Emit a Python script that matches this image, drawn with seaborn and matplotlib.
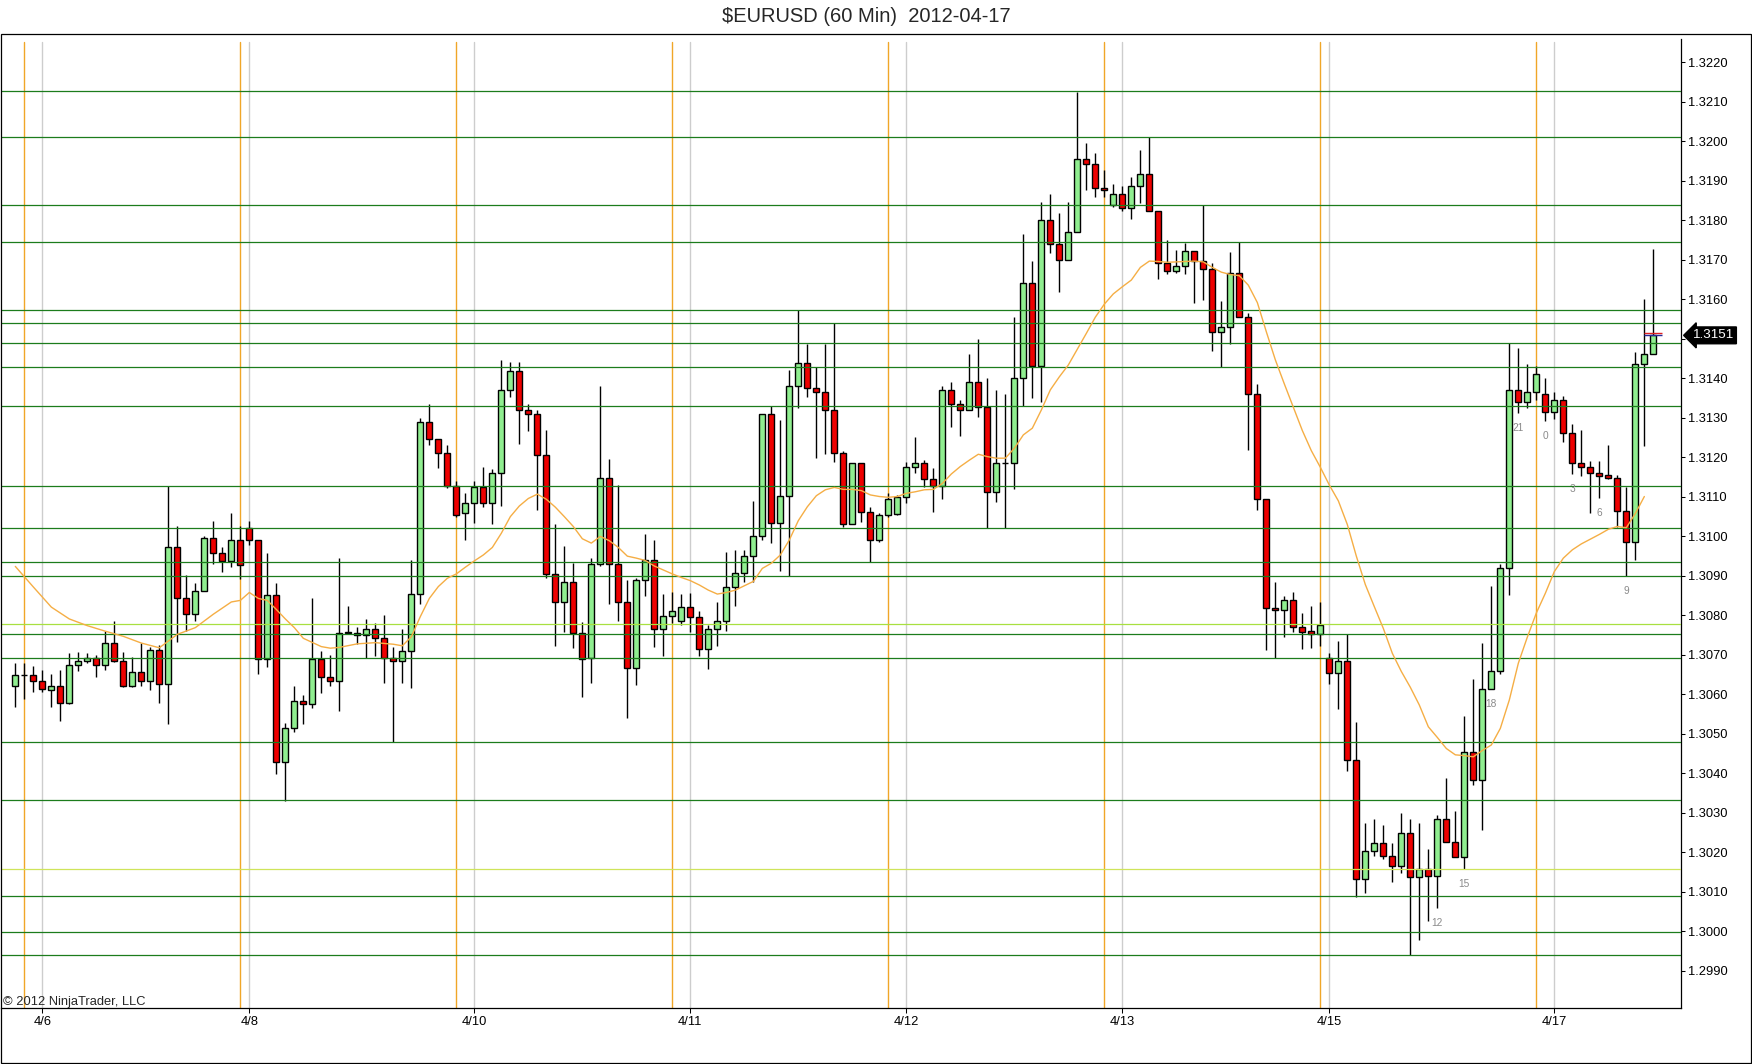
import numpy as np
import pandas as pd
import matplotlib
matplotlib.use("Agg")
import matplotlib.pyplot as plt
import matplotlib.transforms as mtransforms
from matplotlib.patches import Rectangle
import seaborn as sns

# ---------------- data ----------------
title = "$EURUSD (60 Min)  2012-04-17"
copyright_text = "\u00a9 2012 NinjaTrader, LLC"

opens = [
    1.30622, 1.30648, 1.30648, 1.30633, 1.30612, 1.30622, 1.30579, 1.30674, 1.30684, 1.30691,
    1.30674, 1.30729, 1.30684, 1.30622, 1.30657, 1.30633, 1.30713, 1.30626, 1.30974, 1.30845,
    1.30803, 1.30863, 1.30995, 1.30959, 1.30938, 1.30990, 1.31021, 1.30990, 1.30689, 1.30852,
    1.30429, 1.30514, 1.30583, 1.30575, 1.30690, 1.30643, 1.30633, 1.30755, 1.30751, 1.30751,
    1.30765, 1.30744, 1.30693, 1.30685, 1.30710, 1.30854, 1.31289, 1.31246, 1.31210, 1.31128,
    1.31058, 1.31084, 1.31124, 1.31084, 1.31160, 1.31371, 1.31420, 1.31319, 1.31309, 1.31205,
    1.30904, 1.30833, 1.30884, 1.30755, 1.30691, 1.30930, 1.31149, 1.30930, 1.30833, 1.30668,
    1.30890, 1.30940, 1.30765, 1.30799, 1.30786, 1.30822, 1.30795, 1.30714, 1.30765, 1.30786,
    1.30873, 1.30908, 1.30950, 1.31001, 1.31309, 1.31033, 1.31103, 1.31380, 1.31440, 1.31376,
    1.31365, 1.31319, 1.31210, 1.31031, 1.31185, 1.31063, 1.30991, 1.31054, 1.31056, 1.31099,
    1.31175, 1.31185, 1.31145, 1.31128, 1.31371, 1.31334, 1.31320, 1.31390, 1.31328, 1.31113,
    1.31185, 1.31185, 1.31400, 1.31641, 1.31431, 1.31800, 1.31740, 1.31701, 1.31770, 1.31955,
    1.31944, 1.31881, 1.31839, 1.31866, 1.31831, 1.31887, 1.31917, 1.31825, 1.31691, 1.31672,
    1.31685, 1.31723, 1.31697, 1.31676, 1.31518, 1.31530, 1.31666, 1.31555, 1.31360, 1.31094,
    1.30819, 1.30813, 1.30838, 1.30770, 1.30760, 1.30753, 1.30693, 1.30653, 1.30684, 1.30434,
    1.30132, 1.30204, 1.30223, 1.30192, 1.30166, 1.30248, 1.30137, 1.30157, 1.30141, 1.30284,
    1.30227, 1.30188, 1.30453, 1.30383, 1.30613, 1.30658, 1.30919, 1.31371, 1.31339, 1.31365,
    1.31360, 1.31314, 1.31345, 1.31261, 1.31185, 1.31175, 1.31160, 1.31156, 1.31149, 1.31064,
    1.30985, 1.31436, 1.31461,
]
highs = [
    1.30679, 1.30679, 1.30672, 1.30662, 1.30652, 1.30662, 1.30705, 1.30708, 1.30705, 1.30700,
    1.30760, 1.30787, 1.30708, 1.30695, 1.30729, 1.30720, 1.30724, 1.31127, 1.31026, 1.30902,
    1.30883, 1.31000, 1.31038, 1.30974, 1.31058, 1.31026, 1.31038, 1.30990, 1.30959, 1.30883,
    1.30528, 1.30620, 1.30599, 1.30845, 1.30710, 1.30700, 1.30946, 1.30825, 1.30771, 1.30791,
    1.30782, 1.30801, 1.30721, 1.30766, 1.30940, 1.31301, 1.31334, 1.31246, 1.31231, 1.31139,
    1.31109, 1.31139, 1.31175, 1.31170, 1.31447, 1.31442, 1.31442, 1.31334, 1.31320, 1.31269,
    1.31031, 1.30976, 1.30932, 1.30784, 1.30945, 1.31381, 1.31196, 1.31130, 1.30890, 1.30894,
    1.31005, 1.30991, 1.30854, 1.30860, 1.30854, 1.30856, 1.30810, 1.30776, 1.30835, 1.30960,
    1.30966, 1.30966, 1.31090, 1.31309, 1.31329, 1.31295, 1.31421, 1.31572, 1.31487, 1.31428,
    1.31487, 1.31539, 1.31216, 1.31185, 1.31185, 1.31075, 1.31058, 1.31109, 1.31105, 1.31189,
    1.31252, 1.31193, 1.31172, 1.31381, 1.31392, 1.31345, 1.31462, 1.31499, 1.31400, 1.31371,
    1.31361, 1.31556, 1.31766, 1.31697, 1.31846, 1.31866, 1.31820, 1.31846, 1.32126, 1.31995,
    1.31970, 1.31928, 1.31892, 1.31887, 1.31911, 1.31977, 1.32010, 1.31825, 1.31750, 1.31725,
    1.31744, 1.31723, 1.31839, 1.31691, 1.31596, 1.31721, 1.31745, 1.31565, 1.31386, 1.31094,
    1.30884, 1.30850, 1.30859, 1.30805, 1.30824, 1.30833, 1.30706, 1.30735, 1.30752, 1.30531,
    1.30275, 1.30284, 1.30269, 1.30223, 1.30299, 1.30284, 1.30275, 1.30208, 1.30295, 1.30389,
    1.30305, 1.30546, 1.30639, 1.30729, 1.30874, 1.30930, 1.31489, 1.31476, 1.31437, 1.31432,
    1.31400, 1.31365, 1.31356, 1.31285, 1.31270, 1.31191, 1.31191, 1.31231, 1.31156, 1.31126,
    1.31466, 1.31602, 1.31728,
]
lows = [
    1.30569, 1.30588, 1.30607, 1.30607, 1.30569, 1.30533, 1.30576, 1.30658, 1.30679, 1.30643,
    1.30662, 1.30681, 1.30619, 1.30619, 1.30622, 1.30612, 1.30579, 1.30525, 1.30732, 1.30760,
    1.30787, 1.30863, 1.30931, 1.30909, 1.30923, 1.30893, 1.30979, 1.30652, 1.30669, 1.30399,
    1.30331, 1.30504, 1.30524, 1.30565, 1.30603, 1.30622, 1.30559, 1.30752, 1.30728, 1.30693,
    1.30697, 1.30628, 1.30480, 1.30628, 1.30617, 1.30829, 1.31231, 1.31174, 1.31123, 1.31048,
    1.30991, 1.31033, 1.31074, 1.31031, 1.31078, 1.31354, 1.31234, 1.31268, 1.31067, 1.30894,
    1.30723, 1.30759, 1.30718, 1.30593, 1.30628, 1.30925, 1.30828, 1.30786, 1.30540, 1.30624,
    1.30848, 1.30719, 1.30698, 1.30780, 1.30776, 1.30759, 1.30698, 1.30664, 1.30723, 1.30761,
    1.30825, 1.30884, 1.30884, 1.30991, 1.30984, 1.30913, 1.30901, 1.31324, 1.31354, 1.31199,
    1.31209, 1.31189, 1.31023, 1.31031, 1.31037, 1.30934, 1.30985, 1.31048, 1.31054, 1.31084,
    1.31160, 1.31125, 1.31063, 1.31094, 1.31278, 1.31255, 1.31320, 1.31303, 1.31021, 1.31088,
    1.31021, 1.31119, 1.31330, 1.31350, 1.31339, 1.31717, 1.31620, 1.31701, 1.31770, 1.31877,
    1.31860, 1.31860, 1.31835, 1.31825, 1.31804, 1.31845, 1.31825, 1.31651, 1.31664, 1.31666,
    1.31664, 1.31590, 1.31598, 1.31470, 1.31428, 1.31486, 1.31555, 1.31220, 1.31068, 1.30712,
    1.30691, 1.30745, 1.30759, 1.30714, 1.30718, 1.30723, 1.30626, 1.30563, 1.30407, 1.30088,
    1.30098, 1.30192, 1.30183, 1.30126, 1.30147, 1.29940, 1.29977, 1.30027, 1.30059, 1.30227,
    1.30188, 1.30158, 1.30371, 1.30257, 1.30613, 1.30652, 1.30852, 1.31312, 1.31324, 1.31345,
    1.31293, 1.31297, 1.31240, 1.31158, 1.31154, 1.31058, 1.31098, 1.31146, 1.31025, 1.30900,
    1.30939, 1.31228, 1.31461,
]
closes = [
    1.30648, 1.30649, 1.30633, 1.30614, 1.30622, 1.30579, 1.30674, 1.30684, 1.30691, 1.30674,
    1.30729, 1.30684, 1.30622, 1.30657, 1.30633, 1.30713, 1.30626, 1.30974, 1.30845, 1.30803,
    1.30863, 1.30995, 1.30959, 1.30938, 1.30990, 1.30928, 1.30990, 1.30689, 1.30852, 1.30429,
    1.30514, 1.30583, 1.30575, 1.30690, 1.30643, 1.30633, 1.30755, 1.30757, 1.30755, 1.30765,
    1.30744, 1.30693, 1.30685, 1.30710, 1.30854, 1.31289, 1.31246, 1.31210, 1.31128, 1.31053,
    1.31084, 1.31124, 1.31084, 1.31160, 1.31371, 1.31420, 1.31319, 1.31309, 1.31205, 1.30904,
    1.30833, 1.30884, 1.30755, 1.30690, 1.30930, 1.31149, 1.30930, 1.30833, 1.30668, 1.30890,
    1.30940, 1.30765, 1.30799, 1.30812, 1.30822, 1.30795, 1.30714, 1.30765, 1.30786, 1.30873,
    1.30908, 1.30950, 1.31001, 1.31309, 1.31033, 1.31103, 1.31380, 1.31440, 1.31376, 1.31365,
    1.31319, 1.31210, 1.31031, 1.31185, 1.31063, 1.30991, 1.31054, 1.31094, 1.31099, 1.31175,
    1.31185, 1.31145, 1.31128, 1.31371, 1.31334, 1.31320, 1.31390, 1.31328, 1.31113, 1.31185,
    1.31186, 1.31400, 1.31641, 1.31431, 1.31800, 1.31740, 1.31701, 1.31770, 1.31955, 1.31944,
    1.31881, 1.31876, 1.31866, 1.31831, 1.31887, 1.31917, 1.31825, 1.31691, 1.31672, 1.31685,
    1.31723, 1.31697, 1.31676, 1.31518, 1.31530, 1.31666, 1.31555, 1.31360, 1.31094, 1.30818,
    1.30813, 1.30838, 1.30770, 1.30759, 1.30753, 1.30776, 1.30653, 1.30684, 1.30434, 1.30132,
    1.30204, 1.30223, 1.30192, 1.30166, 1.30248, 1.30137, 1.30157, 1.30141, 1.30284, 1.30227,
    1.30188, 1.30453, 1.30383, 1.30613, 1.30658, 1.30919, 1.31371, 1.31339, 1.31365, 1.31411,
    1.31314, 1.31345, 1.31261, 1.31185, 1.31175, 1.31160, 1.31154, 1.31149, 1.31064, 1.30985,
    1.31436, 1.31461, 1.31509,
]

# moving average (bar index, value)
ma_bars = [0, 2, 4, 6, 8, 10, 12, 14, 16, 17, 18, 20, 22, 24, 25, 26, 27, 28, 29, 30,
           31, 32, 34, 35, 36, 38, 40, 42, 43, 44, 45, 46, 47, 48, 49, 50, 51, 52, 53, 54,
           55, 56, 57, 58, 59, 60, 61, 62, 63, 64, 65, 66, 67, 68, 69, 70, 71, 72, 73, 74,
           75, 76, 77, 78, 79, 80, 81, 82, 83, 84, 85, 86, 87, 88, 89, 90, 91, 92, 93, 94,
           95, 96, 97, 98, 99, 100, 101, 102, 103, 104, 105, 106, 107, 108, 109, 110, 111, 112, 113, 114,
           115, 116, 117, 118, 119, 120, 121, 122, 123, 124, 125, 126, 127, 128, 129, 130, 131, 132, 133, 134,
           135, 136, 137, 138, 139, 140, 141, 142, 143, 144, 145, 146, 147, 148, 149, 150, 151, 152, 153, 154,
           155, 156, 157, 158, 159, 160, 161, 162, 163, 164, 165, 166, 167, 168, 169, 170, 171, 172, 173, 174,
           175, 176, 177, 178, 179, 180, 181]
ma_vals = [1.30924, 1.30872, 1.30821, 1.30791, 1.30774, 1.30760, 1.30747, 1.30730, 1.30718, 1.30735,
           1.30752, 1.30769, 1.30803, 1.30834, 1.30838, 1.30858, 1.30843, 1.30838, 1.30815, 1.30791,
           1.30769, 1.30742, 1.30721, 1.30717, 1.30719, 1.30728, 1.30731, 1.30727, 1.30723, 1.30746,
           1.30797, 1.30843, 1.30873, 1.30894, 1.30905, 1.30922, 1.30938, 1.30953, 1.30972, 1.31008,
           1.31050, 1.31077, 1.31096, 1.31107, 1.31094, 1.31074, 1.31050, 1.31025, 1.30994, 1.30983,
           1.31000, 1.30989, 1.30972, 1.30950, 1.30945, 1.30939, 1.30925, 1.30915, 1.30905, 1.30896,
           1.30888, 1.30877, 1.30864, 1.30854, 1.30858, 1.30864, 1.30875, 1.30886, 1.30919, 1.30932,
           1.30953, 1.30991, 1.31040, 1.31075, 1.31103, 1.31118, 1.31124, 1.31119, 1.31119, 1.31116,
           1.31105, 1.31101, 1.31099, 1.31101, 1.31109, 1.31113, 1.31118, 1.31119, 1.31134, 1.31158,
           1.31177, 1.31193, 1.31208, 1.31202, 1.31198, 1.31198, 1.31223, 1.31257, 1.31274, 1.31320,
           1.31371, 1.31404, 1.31434, 1.31474, 1.31514, 1.31555, 1.31588, 1.31614, 1.31632, 1.31649,
           1.31681, 1.31697, 1.31696, 1.31694, 1.31695, 1.31696, 1.31697, 1.31695, 1.31681, 1.31669,
           1.31663, 1.31660, 1.31636, 1.31592, 1.31518, 1.31447, 1.31386, 1.31327, 1.31268, 1.31217,
           1.31175, 1.31130, 1.31090, 1.31030, 1.30950, 1.30878, 1.30822, 1.30767, 1.30704, 1.30658,
           1.30618, 1.30573, 1.30518, 1.30491, 1.30463, 1.30447, 1.30445, 1.30442, 1.30458, 1.30472,
           1.30514, 1.30586, 1.30679, 1.30745, 1.30806, 1.30856, 1.30911, 1.30945, 1.30966, 1.30981,
           1.30993, 1.31005, 1.31018, 1.31025, 1.31022, 1.31058, 1.31101]

levels_dark = [1.32128, 1.32011, 1.31839, 1.31745, 1.31573, 1.31540, 1.31489, 1.31429,
               1.31331, 1.31128, 1.31022, 1.30934, 1.30900, 1.30753, 1.30692, 1.30480,
               1.30333, 1.30089, 1.29999, 1.29939]
levels_light = [1.30777, 1.30157]

session_bars = [1, 25, 49, 73, 97, 121, 145, 169]
date_bars = [3, 26, 51, 75, 99, 123, 146, 171]
date_labels = ["4/6", "4/8", "4/10", "4/11", "4/12", "4/13", "4/15", "4/17"]
hour_bars = [158, 161, 164, 167, 170, 173, 176, 179]
hour_labels = ["12", "15", "18", "21", "0", "3", "6", "9"]
ytick_values = [1.2990, 1.3000, 1.3010, 1.3020, 1.3030, 1.3040, 1.3050, 1.3060,
                1.3070, 1.3080, 1.3090, 1.3100, 1.3110, 1.3120, 1.3130, 1.3140,
                1.3150, 1.3160, 1.3170, 1.3180, 1.3190, 1.3200, 1.3210, 1.3220]
ask_price = 1.31514

# ---------------- styling ----------------
sns.set_style("white")
plt.rcParams["font.family"] = ["Liberation Sans", "DejaVu Sans"]

W, H = 1752, 1064
fig = plt.figure(figsize=(W / 100, H / 100), dpi=100)
ax_left, ax_right, ax_top, ax_bottom = 1.0, 1680.7, 39.3, 1008.3
ax = fig.add_axes([ax_left / W, 1 - ax_bottom / H,
                   (ax_right - ax_left) / W, (ax_bottom - ax_top) / H])
ax.set_facecolor("white")

df = pd.DataFrame({"open": opens, "high": highs, "low": lows, "close": closes})
df["bar"] = np.arange(len(df))
up = df["close"] >= df["open"]

ax.set_xlim(-1.592, 185.04)
ax.set_ylim(1.298053, 1.322585)

# vertical session / date lines (behind candles)
vtop = (ax_bottom - 41.7) / (ax_bottom - ax_top)
for b in session_bars:
    ax.axvline(b, ymin=0, ymax=vtop, color="#F0A628", lw=1.0, zorder=1)
for b in date_bars:
    ax.axvline(b, ymin=0, ymax=vtop, color="#CDCDCD", lw=1.0, zorder=1)

# wicks
ax.vlines(df["bar"], df["low"], df["high"], color="black", lw=1.0, zorder=2)
# bodies
bottom = np.minimum(df["open"], df["close"])
height = np.abs(df["close"] - df["open"])
colors = np.where(up, "#90EE90", "#EE0000")
ax.bar(df["bar"], height, bottom=bottom, width=0.67, color=colors,
       edgecolor="black", linewidth=1.0, zorder=3)

# horizontal level lines (drawing objects on top)
for lv in levels_dark:
    ax.axhline(lv, color="#1C7C1C", lw=0.9, zorder=4)
ax.axhline(levels_light[0], color="#A8E040", lw=0.9, zorder=4)
ax.axhline(levels_light[1], color="#CFE45A", lw=0.9, zorder=4)

# moving average
sns.lineplot(x=ma_bars, y=ma_vals, ax=ax, color="#F5AE45", lw=1.0, zorder=5)

# hour labels below lows
for b, t in zip(hour_bars, hour_labels):
    ax.annotate(t, xy=(b, lows[b]), xytext=(0, -10.8), textcoords="offset points",
                ha="center", va="center", fontsize=7.3, color="#8A8A8A", zorder=6)

# last price markers
last = len(closes) - 1
ax.hlines([ask_price], last - 1, last + 1, color="#E02020", lw=1.0, zorder=6)
ax.hlines([closes[-1]], last - 1, last + 1, color="#2A2A9A", lw=1.0, zorder=6)

trans = mtransforms.blended_transform_factory(ax.transAxes, ax.transData)
ax.annotate(f"{closes[-1]:.4f}", xy=(1.0, closes[-1]), xycoords=trans,
            xytext=(23.5, 0), textcoords="offset points", ha="center", va="center",
            color="white", fontsize=9.6,
            bbox=dict(boxstyle="larrow,pad=0.18", fc="black", ec="black"),
            annotation_clip=False, zorder=10)

# axes / ticks (the 1.3150 label sits under the last-price box, as in the original)
ax.yaxis.tick_right()
ax.set_yticks(ytick_values)
ax.set_yticklabels(["" if abs(v - closes[-1]) < 0.0004 else f"{v:.4f}" for v in ytick_values])
ax.set_xticks(date_bars)
ax.set_xticklabels(date_labels)
ax.tick_params(axis="y", which="both", left=False, right=True, length=2.9, width=0.75,
               pad=2.4, labelsize=9.3, direction="out", colors="black")
ax.tick_params(axis="x", which="both", bottom=True, length=3.6, width=0.75,
               pad=2.0, labelsize=9.3, direction="out", colors="black")
for side in ["left", "top"]:
    ax.spines[side].set_visible(False)
for side in ["right", "bottom"]:
    ax.spines[side].set_visible(True)
    ax.spines[side].set_color("black")
    ax.spines[side].set_linewidth(0.9)
ax.set_xlabel("")
ax.set_ylabel("")

# panel border, title, copyright
fig.patches.append(Rectangle((0.5 / W, 1 - 1062.7 / H), (1751.0 - 0.5) / W,
                             (1062.7 - 34.0) / H, transform=fig.transFigure,
                             fill=False, ec="black", lw=0.9))
fig.text(866 / W, 1 - 17 / H, title, ha="center", va="center", fontsize=14.5)
fig.text(2.7 / W, 1 - 1005.0 / H, copyright_text, ha="left", va="baseline",
         fontsize=9.3, zorder=20)

fig.savefig("out.png", dpi=100)
